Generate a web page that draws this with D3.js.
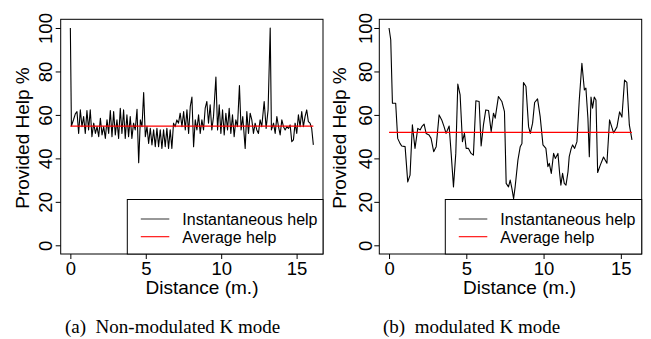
<!DOCTYPE html>
<html>
<head>
<meta charset="utf-8">
<script src="https://cdn.jsdelivr.net/npm/d3@7"></script>
<style>
  body { margin: 0; background: #fff; }
  svg { display: block; }
</style>
</head>
<body>
<svg id="chart"></svg>
<script>
// ---- data ----
const nonModDist = [0,0.07,0.22,0.33,0.44,0.55,0.66,0.77,0.88,0.99,1.10,1.21,1.32,1.43,1.55,1.66,1.77,1.88,1.99,2.10,2.21,2.32,2.43,2.54,2.65,2.76,2.87,2.98,3.09,3.20,3.31,3.42,3.53,3.64,3.75,3.86,3.97,4.08,4.19,4.30,4.42,4.53,4.64,4.75,4.86,4.97,5.08,5.19,5.30,5.41,5.52,5.63,5.74,5.85,5.96,6.07,6.18,6.29,6.40,6.51,6.62,6.73,6.84,6.95,7.06,7.17,7.28,7.40,7.51,7.62,7.73,7.84,7.95,8.06,8.17,8.28,8.39,8.50,8.61,8.72,8.83,8.94,9.05,9.16,9.27,9.38,9.49,9.65,9.76,9.87,9.98,10.09,10.20,10.31,10.42,10.53,10.64,10.75,10.86,10.97,11.08,11.21,11.32,11.43,11.59,11.70,11.81,11.92,12.03,12.14,12.25,12.36,12.47,12.58,12.69,12.85,12.98,13.11,13.25,13.33,13.47,13.58,13.69,13.80,13.91,14.02,14.13,14.24,14.35,14.46,14.57,14.68,14.79,14.90,15.01,15.12,15.23,15.34,15.45,15.56,15.67,15.78,15.89,16.00,16.11];
const nonModHelp = [100,54.9,58,60.5,61.5,51.5,62.3,54.6,59.2,51.5,62,53.1,62.3,50,56.2,51.5,54.6,50,58.5,50.8,54.6,49.2,57.7,51.5,62,50,61.5,50.8,57.7,49.2,63.1,51.5,62.3,49.2,60,50,59.2,49.2,56.2,53.1,62.6,38,57.7,54.6,70.3,50,54.6,46.9,53.8,46.2,53.1,45.4,53.8,45.4,53.1,44.6,53.1,45.4,53.8,44.6,53.1,44.6,56.2,54.6,57.7,56.2,60.8,54.6,61.5,53.1,62.3,51.5,63.8,68.2,45.4,57.7,53.1,60,51.5,57.7,53.1,63.1,66.2,56.2,64.6,53.1,59.2,77.4,53.1,64.6,51.5,62.3,50.8,60.8,53.1,63.1,51.5,60,50,57.7,54.6,73.5,53.1,59.2,44.6,61.5,51.5,60.8,57.7,51.5,56.2,53.1,51.5,57.7,54.6,66.2,53.8,62.3,100,53.1,56.2,51.5,59.2,54.6,50.8,57.7,54.6,53.1,54.6,53.8,55.4,47.7,48.5,56.2,51.5,60,54.6,61.5,54.6,59.2,62.3,56.9,56.2,53.8,46.2];
const nonModAverage = 54.8;

const modDist = [0,0.11,0.22,0.43,0.56,0.71,0.82,1.04,1.21,1.36,1.51,1.68,1.86,2.01,2.12,2.27,2.40,2.59,2.72,2.89,3.05,3.24,3.41,3.56,3.69,3.89,4.02,4.17,4.32,4.45,4.60,4.75,4.88,4.99,5.14,5.31,5.46,5.62,5.83,5.96,6.11,6.26,6.44,6.61,6.76,6.87,7.08,7.30,7.47,7.58,7.73,7.84,7.95,8.06,8.16,8.34,8.49,8.60,8.70,8.86,9.03,9.14,9.29,9.42,9.61,9.78,9.96,10.15,10.28,10.37,10.50,10.65,10.76,10.93,11.04,11.12,11.23,11.34,11.45,11.58,11.66,11.79,11.88,12.01,12.16,12.31,12.48,12.64,12.74,12.87,12.96,13.07,13.17,13.28,13.39,13.50,13.67,13.88,14.10,14.27,14.53,14.75,14.92,15.07,15.24,15.39,15.55,15.72];
const modHelp = [100,94.6,65.4,65.4,49.2,46.9,45.7,45.4,29.2,32.3,55.4,44.6,53.8,53.1,54.6,55.8,51.5,50.8,49.2,43.1,45.4,60,57.7,54.6,51.5,54.9,42.3,26.9,42.3,74.2,69.2,47.7,51.5,44.6,44.6,42.3,41.5,66.5,66.2,45.7,55.4,62.3,62,52.3,60.8,58.5,68.5,66.2,61.5,28.5,26.9,30,26.2,21.5,26.9,39.2,45.4,46.9,74.9,73.1,54.6,51.5,56.2,65.7,67.4,59.2,46.2,44.6,36.2,37.7,33.1,42.3,40,42.3,33.1,27.7,33.1,28.5,27.7,33.8,40.8,44.6,46.2,44.6,47.7,66.9,83.8,71.5,72.3,58.5,40.8,68.2,63.1,68.2,66.9,33.5,36.9,40.6,37.8,57.7,51.7,54.5,61.4,59,76,75,55.4,48.5];
const modAverage = 52;

const xTicks = [0, 5, 10, 15];
const yTicks = [0, 20, 40, 60, 80, 100];
const legendLabels = ["Instantaneous help", "Average help"];
const legendColors = ["#444", "red"];
const captions = ["(a)\u2002Non-modulated K mode", "(b)\u2002modulated K mode"];

const W = 651, H = 339;
const sans = "'Liberation Sans', Arial, Helvetica, sans-serif";
const serif = "'Liberation Serif', 'Times New Roman', serif";

const svg = d3.select("#chart")
    .attr("width", W)
    .attr("height", H)
    .style("font-family", sans);

svg.append("rect").attr("width", W).attr("height", H).attr("fill", "#fff");

function panel(cfg) {
    const x = d3.scaleLinear().domain(cfg.xDomain).range([cfg.left, cfg.right]);
    const y = d3.scaleLinear().domain([-4, 104]).range([254, 19.3]);
    const g = svg.append("g");

    // data line
    const pts = cfg.dist.map((d, i) => [d, cfg.help[i]]);
    g.append("path")
        .datum(pts)
        .attr("d", d3.line().x(d => x(d[0])).y(d => y(d[1])))
        .attr("fill", "none")
        .attr("stroke", "#000")
        .attr("stroke-width", 1.1)
        .attr("stroke-linejoin", "round");

    // average line
    g.append("line")
        .attr("x1", x(0)).attr("x2", x(cfg.dist[cfg.dist.length - 1]))
        .attr("y1", y(cfg.avg)).attr("y2", y(cfg.avg))
        .attr("stroke", "red")
        .attr("stroke-width", 1.2);

    // axes
    g.append("g")
        .attr("transform", "translate(0,254)")
        .call(d3.axisBottom(x).tickValues(xTicks).tickSize(5).tickSizeOuter(0))
        .call(a => a.select(".domain").remove())
        .call(a => a.selectAll("text")
            .attr("y", 7.5)
            .attr("dy", "0.71em")
            .style("font-family", sans)
            .style("font-size", "18.5px")
            .attr("fill", "#000"));

    const ya = g.append("g")
        .attr("transform", `translate(${cfg.left},0)`)
        .call(d3.axisLeft(y).tickValues(yTicks).tickSize(5).tickSizeOuter(0))
        .call(a => a.select(".domain").remove());
    ya.selectAll(".tick text").remove();
    ya.selectAll(".tick").append("text")
        .attr("transform", `translate(${cfg.ylabX - cfg.left},0) rotate(-90)`)
        .attr("text-anchor", "middle")
        .attr("fill", "#000")
        .style("font-family", sans)
        .style("font-size", "18.5px")
        .text(d => d);

    // frame
    g.append("rect")
        .attr("x", cfg.left).attr("y", 19.3)
        .attr("width", cfg.right - cfg.left).attr("height", 254 - 19.3)
        .attr("fill", "none")
        .attr("stroke", "#000")
        .attr("stroke-width", 1);

    // axis titles
    g.append("text")
        .attr("x", cfg.xtitleX).attr("y", 294)
        .attr("text-anchor", "middle")
        .style("font-size", "19px")
        .text("Distance (m.)");
    g.append("text")
        .attr("transform", `translate(${cfg.ytitleX},138) rotate(-90)`)
        .attr("text-anchor", "middle")
        .style("font-size", "19px")
        .text("Provided Help %");

    // legend
    const lg = g.append("g");
    lg.append("rect")
        .attr("x", cfg.legX).attr("y", 199.5)
        .attr("width", cfg.right - cfg.legX).attr("height", 254 - 199.5)
        .attr("fill", "#fff")
        .attr("stroke", "#000")
        .attr("stroke-width", 1);
    legendLabels.forEach((lab, i) => {
        const yy = 219 + i * 17.7;
        lg.append("line")
            .attr("x1", cfg.legX + 13.5).attr("x2", cfg.legX + 42)
            .attr("y1", yy).attr("y2", yy)
            .attr("stroke", legendColors[i])
            .attr("stroke-width", 1.1);
        lg.append("text")
            .attr("x", cfg.legX + 55).attr("y", yy + 6)
            .style("font-size", "16px")
            .text(lab);
    });

    // caption
    svg.append("text")
        .attr("x", cfg.capX).attr("y", 333)
        .style("font-family", serif)
        .style("font-size", "19px")
        .text(cfg.caption);
}

panel({
    dist: nonModDist, help: nonModHelp, avg: nonModAverage,
    xDomain: [-0.64, 16.75], left: 60.7, right: 323,
    ylabX: 52, ytitleX: 28.5, xtitleX: 202, legX: 127.3,
    capX: 65, caption: captions[0]
});

panel({
    dist: modDist, help: modHelp, avg: modAverage,
    xDomain: [-0.63, 16.35], left: 379.3, right: 641.7,
    ylabX: 371.5, ytitleX: 345.5, xtitleX: 519.5, legX: 445.3,
    capX: 383, caption: captions[1]
});
</script>
</body>
</html>
